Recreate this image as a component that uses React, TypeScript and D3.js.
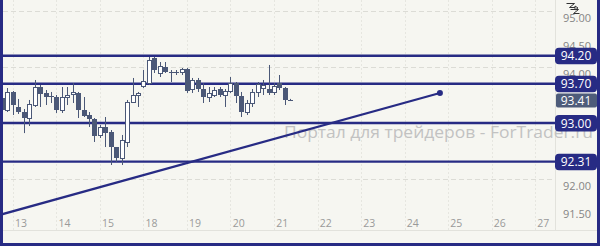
import React from "react";
import * as d3 from "d3";

// 3-hour candles, index 0..53
const opens = [93.446, 93.232, 93.554, 93.286, 93.196, 93.089, 93.321, 93.643, 93.536, 93.482, 93.464, 93.232, 93.464, 93.518, 93.536, 93.232, 93.143, 93.071, 92.786, 92.929, 92.839, 92.571, 92.375, 92.661, 93.375, 93.5, 93.661, 93.714, 94.161, 93.893, 94.0, 93.911, 93.911, 93.911, 93.964, 93.607, 93.768, 93.607, 93.464, 93.5, 93.607, 93.5, 93.571, 93.714, 93.482, 93.196, 93.357, 93.554, 93.625, 93.607, 93.554, 93.714, 93.625, 93.41];
const highs = [93.5, 93.625, 93.571, 93.429, 93.25, 93.411, 93.768, 93.679, 93.589, 93.554, 93.5, 93.643, 93.643, 93.714, 93.554, 93.464, 93.196, 93.089, 92.964, 93.107, 92.875, 92.571, 92.786, 93.411, 93.804, 93.554, 93.946, 94.179, 94.179, 94.089, 94.089, 93.946, 93.946, 93.982, 93.982, 93.804, 93.804, 93.714, 93.643, 93.643, 93.643, 93.607, 93.821, 93.732, 93.554, 93.411, 93.607, 93.732, 93.768, 94.036, 93.714, 93.857, 93.643, 93.43];
const lows = [93.196, 93.196, 93.143, 93.161, 92.82, 92.946, 93.286, 93.286, 93.321, 93.357, 93.179, 93.179, 93.321, 93.357, 93.089, 93.107, 92.929, 92.661, 92.732, 92.571, 92.25, 92.304, 92.25, 92.571, 93.357, 93.286, 93.625, 93.679, 93.893, 93.821, 93.893, 93.732, 93.857, 93.857, 93.536, 93.536, 93.554, 93.357, 93.375, 93.464, 93.464, 93.286, 93.536, 93.357, 93.107, 93.143, 93.286, 93.464, 93.5, 93.5, 93.5, 93.589, 93.321, 93.40];
const closes = [93.232, 93.554, 93.321, 93.196, 93.089, 93.339, 93.643, 93.518, 93.464, 93.47, 93.232, 93.464, 93.5, 93.554, 93.232, 93.125, 93.071, 92.768, 92.929, 92.821, 92.571, 92.375, 92.696, 93.375, 93.5, 93.536, 93.75, 94.125, 93.946, 94.018, 93.911, 93.911, 93.905, 93.964, 93.571, 93.768, 93.607, 93.464, 93.536, 93.589, 93.5, 93.571, 93.714, 93.482, 93.196, 93.357, 93.554, 93.696, 93.679, 93.536, 93.661, 93.625, 93.411, 93.41];

const dayLabels = ["13", "14", "15", "18", "19", "20", "21", "22", "23", "24", "25", "26", "27"];
const priceTicks = [95, 94.5, 94, 92.5, 92, 91.5];
const gridPrices = [95, 94, 93, 92];
const levels = [94.2, 93.7, 93.0, 92.31];
const currentPrice = 93.41;
const trendIdx = [0, 80.5];
const trendPrice = [91.37, 93.536];
const watermark = "Портал для трейдеров - ForTrader.ru";

const NAVY = "#272b84";
const SLATE = "#4b5877";
const FONT = "'Open Sans', 'DejaVu Sans', sans-serif";

export default function App() {
  const x = d3.scaleLinear().domain([0, 100]).range([2, 546]);
  const y = d3.scaleLinear().domain([95, 91.5]).range([11, 207]);
  const plotRight = 556;

  const crisp = (v: number) => Math.round(v) + 0.5;

  const trendLine = d3
    .line<number>()
    .x((_, i) => x(trendIdx[i]))
    .y((d) => y(d));

  return (
    <svg
      width={600}
      height={246}
      style={{ position: "absolute", left: 0, top: 0, display: "block" }}
    >
      <defs>
        <clipPath id="plot">
          <rect x={3} y={0} width={plotRight - 3} height={232} />
        </clipPath>
      </defs>
      <rect x={0} y={0} width={600} height={246} fill="#f6f6f1" />

      {/* vertical grid */}
      {dayLabels.map((_, k) => (
        <line
          key={"vg" + k}
          x1={crisp(x(2 + 8 * k))}
          x2={crisp(x(2 + 8 * k))}
          y1={0}
          y2={230}
          stroke="#e6e6e0"
          strokeDasharray="2,2"
        />
      ))}
      {/* horizontal grid */}
      {gridPrices.map((p) => (
        <line
          key={"hg" + p}
          x1={3}
          x2={plotRight}
          y1={crisp(y(p))}
          y2={crisp(y(p))}
          stroke="#dcdcd6"
          strokeDasharray="5,3"
        />
      ))}
      {/* axis separators */}
      <line x1={555.5} x2={555.5} y1={0} y2={230} stroke="#e2e2dc" />
      <line x1={3} x2={597} y1={230.5} y2={230.5} stroke="#e2e2dc" />

      {/* watermark */}
      <text
        x={284}
        y={138}
        fontFamily={FONT}
        fontSize={16}
        fill="#c2c2c2"
        textLength={309}
        lengthAdjust="spacingAndGlyphs"
      >
        {watermark}
      </text>

      <g clipPath="url(#plot)">
        {/* level lines */}
        {levels.map((p) => (
          <line
            key={"lv" + p}
            x1={3}
            x2={plotRight}
            y1={y(p)}
            y2={y(p)}
            stroke={NAVY}
            strokeWidth={2.4}
          />
        ))}
        {/* trend line */}
        <path d={trendLine(trendPrice) || ""} fill="none" stroke={NAVY} strokeWidth={2.2} />
        <circle cx={x(trendIdx[1])} cy={y(trendPrice[1])} r={3} fill={NAVY} />

        {/* candles */}
        {opens.map((o, i) => {
          const c = closes[i];
          const cx = crisp(x(i));
          const top = y(Math.max(o, c));
          const bot = y(Math.min(o, c));
          const bull = c > o;
          const h = Math.max(1, bot - top);
          return (
            <g key={"c" + i}>
              <line x1={cx} x2={cx} y1={y(highs[i])} y2={y(lows[i])} stroke={SLATE} strokeWidth={1} />
              {bull ? (
                <rect x={cx - 2} y={Math.round(top) + 0.5} width={4} height={Math.max(1, Math.round(h))} fill="#ffffff" stroke={SLATE} strokeWidth={1} />
              ) : (
                <rect x={cx - 2.5} y={Math.round(top)} width={5} height={Math.max(1, Math.round(h))} fill={SLATE} />
              )}
            </g>
          );
        })}
      </g>

      {/* price labels */}
      {priceTicks.map((p) => (
        <text
          key={"pt" + p}
          x={577}
          y={y(p) + 11}
          textAnchor="middle"
          fontFamily={FONT}
          fontSize={11}
          fill="#858585"
        >
          {p.toFixed(2)}
        </text>
      ))}

      {/* day labels */}
      {dayLabels.map((d, k) => (
        <text
          key={"dl" + d}
          x={x(3.5 + 8 * k)}
          y={227}
          textAnchor="middle"
          fontFamily={FONT}
          fontSize={10.5}
          fill="#9a9a9a"
        >
          {d}
        </text>
      ))}

      {/* level tags */}
      {levels.map((p) => (
        <g key={"tg" + p}>
          <rect x={555} y={y(p) - 8} width={42} height={16.5} rx={4} fill={NAVY} />
          <text x={576} y={y(p) + 4.5} textAnchor="middle" fontFamily={FONT} fontSize={12} fill="#ffffff">
            {p.toFixed(2)}
          </text>
        </g>
      ))}
      <g>
        <rect x={556} y={y(currentPrice) - 6.5} width={41} height={14} rx={2} fill="#4e5c7a" />
        <text x={576} y={y(currentPrice) + 4.5} textAnchor="middle" fontFamily={FONT} fontSize={12} fill="#ffffff">
          {currentPrice.toFixed(2)}
        </text>
      </g>

      {/* zoom icon */}
      <g stroke="#333" strokeWidth={1} fill="#fff">
        <path d="M566.5 3.5 L574.5 3.5 L569.5 7.5 L575.5 7.5" fill="none" />
        <path d="M570.5 9.5 L578.5 9.5 L573.5 13.5 L579.5 13.5" fill="none" />
        <path d="M575 6 L578 8 L575 10 Z" />
      </g>

      {/* frame */}
      <rect x={0} y={0} width={3} height={246} fill={NAVY} />
      <rect x={597} y={0} width={3} height={246} fill={NAVY} />
      <rect x={0} y={243} width={600} height={3} fill={NAVY} />
    </svg>
  );
}
